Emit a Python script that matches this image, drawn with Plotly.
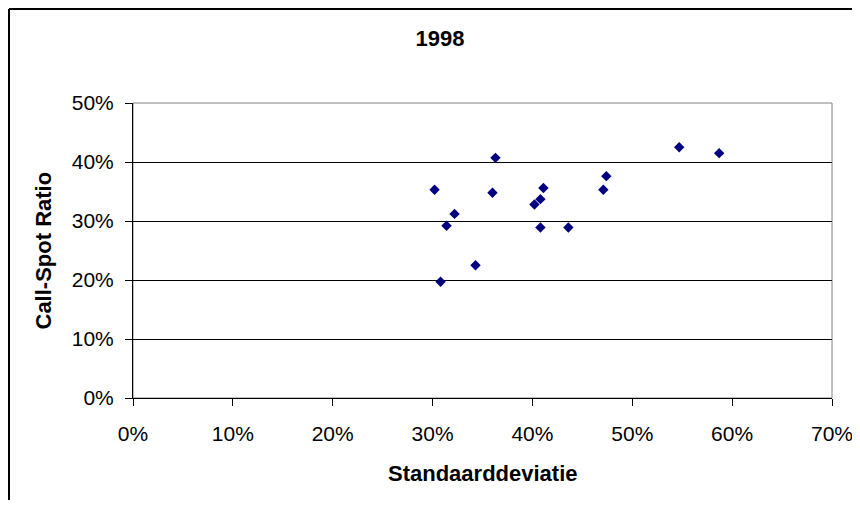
import plotly.graph_objects as go

# Data (fractions)
std_dev = [0.363, 0.302, 0.360, 0.322, 0.314, 0.343, 0.308, 0.411, 0.408,
           0.402, 0.408, 0.436, 0.474, 0.471, 0.547, 0.587]
call_spot = [0.407, 0.353, 0.348, 0.312, 0.292, 0.225, 0.197, 0.356, 0.337,
             0.328, 0.289, 0.289, 0.376, 0.353, 0.425, 0.415]
x_ticks = [0, 0.1, 0.2, 0.3, 0.4, 0.5, 0.6, 0.7]
y_ticks = [0, 0.1, 0.2, 0.3, 0.4, 0.5]

FONT = "Liberation Sans, Arial, sans-serif"

fig = go.Figure()
fig.add_trace(go.Scatter(
    x=std_dev, y=call_spot, mode="markers",
    marker=dict(symbol="diamond", size=8, color="#000080",
                line=dict(width=0)),
    showlegend=False, hoverinfo="x+y",
))

# page has an 8px body margin; figure sized so the page fits 860x508
W, H = 844, 492
L, T = 125, 95
pw, ph = 699, 295
R, B = W - L - pw, H - T - ph


def px_to_paper_x(fx):
    return (fx - L) / pw


def px_to_paper_y(fy):
    return (T + ph - fy) / ph


fig.update_layout(
    width=W, height=H,
    margin=dict(l=L, r=R, t=T, b=B, pad=0, autoexpand=False),
    paper_bgcolor="white", plot_bgcolor="white",
    font=dict(family=FONT, size=21, color="black"),
    title=dict(text="<b>1998</b>", x=432 / W, xanchor="center",
               y=1 - 30 / H, yanchor="middle",
               font=dict(family=FONT, size=22, color="black")),
    xaxis=dict(range=[0, 0.7], tickvals=x_ticks, tickformat=".0%",
               automargin=False, ticklabeloverflow="allow",
               showgrid=False, zeroline=False, showline=True,
               linecolor="black", linewidth=1, ticks="outside",
               ticklen=7, tickcolor="black", ticklabelstandoff=10,
               fixedrange=True),
    yaxis=dict(range=[0, 0.5], tickvals=y_ticks, tickformat=".0%",
               automargin=False,
               showgrid=True, gridcolor="black", gridwidth=1,
               zeroline=False, showline=True, linecolor="black",
               linewidth=1, ticks="outside", ticklen=7, tickcolor="black",
               ticklabelstandoff=7, fixedrange=True),
    annotations=[
        dict(text="<b>Standaarddeviatie</b>", xref="paper", yref="paper",
             x=0.5, y=0, yshift=-75, xanchor="center", yanchor="middle",
             showarrow=False, font=dict(family=FONT, size=22)),
        dict(text="<b>Call-Spot Ratio</b>", xref="paper", yref="paper",
             x=0, y=0.5, xshift=-90, xanchor="center", yanchor="middle",
             textangle=-90, showarrow=False, font=dict(family=FONT, size=22)),
    ],
    shapes=[
        # gray plot-area frame (top/right)
        dict(type="rect", xref="paper", yref="paper", x0=0, x1=1, y0=0, y1=1,
             line=dict(color="#808080", width=1), layer="below"),
        # outer chart frame: left and top edges
        dict(type="line", xref="paper", yref="paper",
             x0=px_to_paper_x(1), x1=px_to_paper_x(1),
             y0=px_to_paper_y(H), y1=px_to_paper_y(1),
             line=dict(color="black", width=2), layer="above"),
        dict(type="line", xref="paper", yref="paper",
             x0=px_to_paper_x(1), x1=px_to_paper_x(W),
             y0=px_to_paper_y(1), y1=px_to_paper_y(1),
             line=dict(color="black", width=2), layer="above"),
    ],
)

fig.write_html("out.html")
